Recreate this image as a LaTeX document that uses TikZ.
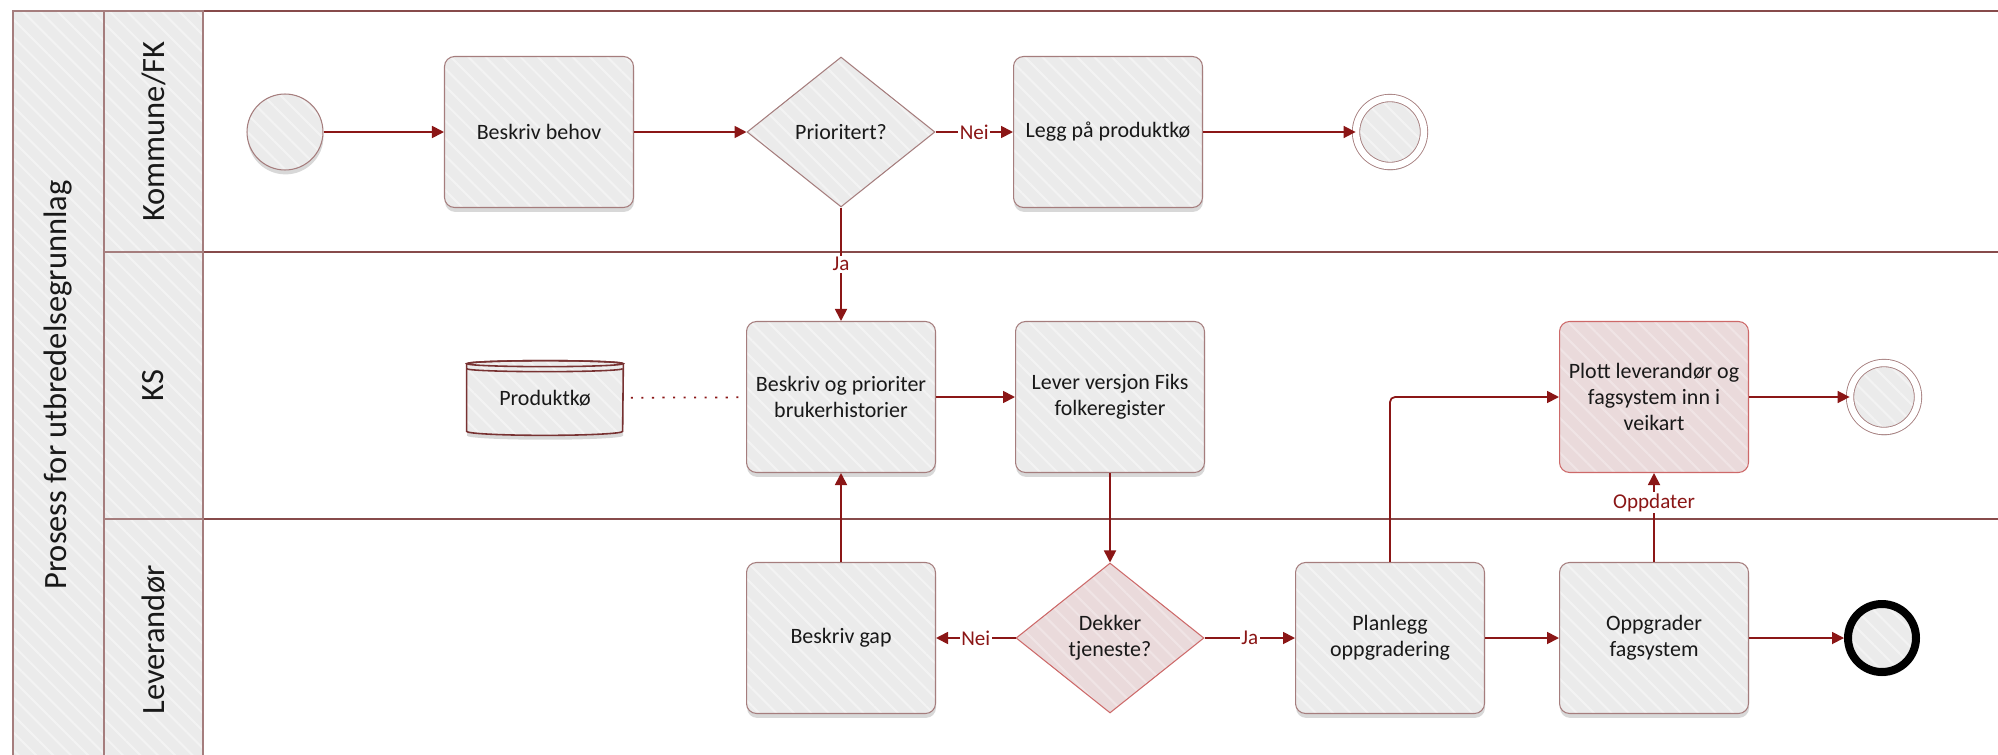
\documentclass[tikz,border=0pt]{standalone}
\usepackage{fontspec}
\setmainfont{Carlito}
\usepackage{xcolor}
\usepackage{tikz}
\usetikzlibrary{shapes, positioning, calc, arrows.meta, shadows, patterns.meta}
\definecolor{flowred}{RGB}{139,22,22}
\definecolor{laneline}{RGB}{135,75,75}
\definecolor{boxline}{RGB}{165,125,125}
\definecolor{boxgray}{RGB}{235,235,235}
\definecolor{boxstripe}{RGB}{243,243,243}
\definecolor{pastelpink}{RGB}{234,218,219}
\definecolor{pinkstripe}{RGB}{240,228,229}
\definecolor{pinkline}{RGB}{205,105,105}
\definecolor{storeline}{RGB}{120,50,50}

\begin{document}
\begin{tikzpicture}[x=0.02cm, y=0.02cm,
  every node/.style={font=\fontsize{12.5}{15}\selectfont, text=black!90},
  striped/.style 2 args={preaction={fill=#1}, pattern={Lines[angle=-45,distance=7pt,line width=1.2pt]}, pattern color=#2},
  boxshadow/.style={drop shadow={shadow xshift=0.3pt, shadow yshift=-2.5pt, opacity=0.22, fill=black!70}},
  basetask/.style={rectangle, rounded corners=0.2cm, line width=0.6pt, minimum width=3.78cm, minimum height=3.02cm, align=center},
  task/.style={basetask, boxshadow, striped={boxgray}{boxstripe}, draw=boxline},
  pinktask/.style={basetask, striped={pastelpink}{pinkstripe}, draw=pinkline},
  basegate/.style={diamond, line width=0.6pt, minimum width=3.76cm, minimum height=3cm, inner sep=0pt, align=center},
  gate/.style={basegate, striped={boxgray}{boxstripe}, draw=boxline},
  pinkgate/.style={basegate, striped={pastelpink}{pinkstripe}, draw=pinkline},
  event/.style={circle, boxshadow, striped={boxgray}{boxstripe}, draw=boxline, line width=0.6pt, minimum size=1.52cm, inner sep=0pt},
  endevent/.style={circle, boxshadow, striped={boxgray}{boxstripe}, draw=boxline, line width=0.5pt, double=white, double distance=0.13cm, minimum size=1.36cm, inner sep=0pt},
  endblack/.style={circle, boxshadow, striped={boxgray}{boxstripe}, draw=black, line width=0.16cm, minimum size=1.36cm, inner sep=0pt},
  header/.style={striped={boxgray}{boxstripe}, draw=boxline, line width=1pt},
  lanetext/.style={rotate=90, font=\fontsize{18.5}{22}\selectfont},
  flow/.style={draw=flowred, line width=1pt, -{Triangle[length=0.24cm, width=0.24cm]}},
  flowlabel/.style={fill=white, text=flowred, inner sep=1pt, font=\fontsize{12}{14}\selectfont}]
\useasboundingbox (0,0) rectangle (1998,-754);

\pgfmathsetmacro{\poolleft}{13}
\pgfmathsetmacro{\poolright}{2010}
\pgfmathsetmacro{\pooltop}{-11}
\pgfmathsetmacro{\poolbottom}{-760}
\pgfmathsetmacro{\labelx}{104}
\pgfmathsetmacro{\bodyx}{203}
\pgfmathsetmacro{\laneone}{-252}
\pgfmathsetmacro{\lanetwo}{-519}

%% pool and lanes
\draw[laneline, line width=1.2pt] (\labelx,\pooltop) -- (\poolright,\pooltop);
\draw[laneline, line width=1.2pt] (\labelx,\laneone) -- (\poolright,\laneone);
\draw[laneline, line width=1.2pt] (\labelx,\lanetwo) -- (\poolright,\lanetwo);
\draw[header] (\poolleft,\pooltop) rectangle (\labelx,\poolbottom);
\draw[header] (\labelx,\pooltop) rectangle (\bodyx,\laneone);
\draw[header] (\labelx,\laneone) rectangle (\bodyx,\lanetwo);
\draw[header] (\labelx,\lanetwo) rectangle (\bodyx,\poolbottom);

\node[lanetext] (pool) at (58.5,-385) {Prosess for utbredelsegrunnlag};
\node[lanetext] (kommune) at (153.5,-131.5) {Kommune/FK};
\node[lanetext] (ks) at (153.5,-385.5) {KS};
\node[lanetext] (leverandor) at (153.5,-640) {Leverandør};

%% Kommune/FK
\node[event] (start) at (285,-132) {};
\node[task] (beh) at (539,-132) {Beskriv behov};
\node[gate] (prio) at (841,-132) {Prioritert?};
\node[task] (legg) at (1108,-132) {Legg på produktkø};
\node[endevent] (end1) at (1390,-132) {};

%% KS
\node[minimum width=3.12cm, minimum height=1.48cm, inner sep=0pt] (store) at (545,-398) {};
\draw[boxshadow, striped={boxgray}{boxstripe}, draw=storeline, line width=0.9pt]
  ($(store.north west)+(0,-3)$) -- ($(store.south west)+(0,4)$)
  arc[start angle=180, end angle=360, x radius=1.56cm, y radius=0.08cm]
  -- ($(store.north east)+(0,-3)$)
  arc[start angle=0, end angle=180, x radius=1.56cm, y radius=0.06cm] -- cycle;
\draw[storeline, line width=0.9pt] ($(store.north)+(0,-3)$) ellipse[x radius=1.56cm, y radius=0.06cm];
\draw[storeline, line width=0.9pt] ($(store.north west)+(0,-8)$) arc[start angle=180, end angle=360, x radius=1.56cm, y radius=0.06cm];
\node at (store) {Produktkø};

\node[task] (hist) at (841,-397) {Beskriv og prioriter\\brukerhistorier};
\node[task] (lever) at (1110,-397) {Lever versjon Fiks\\folkeregister};
\node[pinktask] (plott) at (1654,-397) {Plott leverandør og\\fagsystem inn i\\veikart};
\node[endevent] (end2) at (1884,-397) {};

%% Leverandør
\node[task] (gap) at (841,-638) {Beskriv gap};
\node[pinkgate] (dekker) at (1110,-638) {Dekker\\tjeneste?};
\node[task] (plan) at (1390,-638) {Planlegg\\oppgradering};
\node[task] (oppg) at (1654,-638) {Oppgrader\\fagsystem};
\node[endblack] (end3) at (1882,-638) {};

%% flows
\draw[flow] (start) -- (beh);
\draw[flow] (beh) -- (prio);
\draw[flow] (prio) -- node[flowlabel] {Nei} (legg);
\draw[flow] (legg) -- (end1);
\draw[flow] (prio) -- node[flowlabel] {Ja} (hist);
\draw[flowred, line width=1pt, dash pattern=on 1.2pt off 4.8pt, shorten <=0.15cm] (store) -- (hist);
\draw[flow] (hist) -- (lever);
\draw[flow] (lever) -- (dekker);
\draw[flow] (dekker) -- node[flowlabel] {Nei} (gap);
\draw[flow] (dekker) -- node[flowlabel] {Ja} (plan);
\draw[flow] (gap) -- (hist);
\draw[flow, rounded corners=0.1cm] (plan) |- (plott);
\draw[flow] (plan) -- (oppg);
\draw[flow] (oppg) -- node[flowlabel, pos=0.67] {Oppdater} (plott);
\draw[flow] (oppg) -- (end3);
\draw[flow] (plott) -- (end2);
\end{tikzpicture}
\end{document}
